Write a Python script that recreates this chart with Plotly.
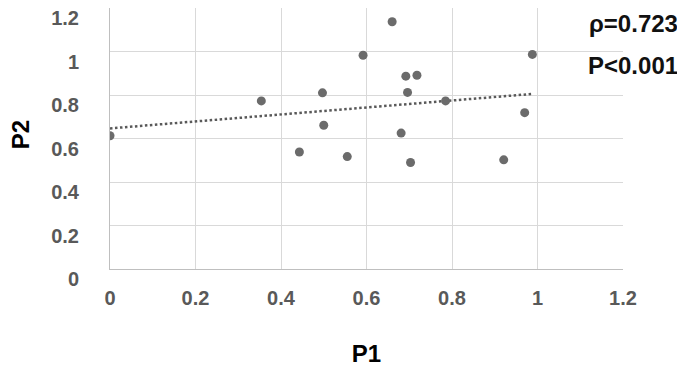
import numpy as np
import plotly.graph_objects as go

p1 = [0.0, 0.354, 0.497, 0.500, 0.443, 0.555, 0.592, 0.660, 0.692, 0.718,
      0.696, 0.681, 0.703, 0.785, 0.988, 0.970, 0.921]
p2 = [0.613, 0.773, 0.810, 0.661, 0.538, 0.517, 0.983, 1.137, 0.887, 0.891,
      0.812, 0.625, 0.490, 0.773, 0.987, 0.719, 0.502]
tick_vals = [0, 0.2, 0.4, 0.6, 0.8, 1.0, 1.2]
tick_text = ["0", "0.2", "0.4", "0.6", "0.8", "1", "1.2"]
stats = ["ρ=0.723", "P<0.001"]

slope, intercept = np.polyfit(p1, p2, 1)
tx = [min(p1), max(p1)]
ty = [intercept + slope * v for v in tx]

FONT = "Liberation Sans, Arial, sans-serif"

fig = go.Figure()
fig.add_trace(go.Scatter(x=tx, y=ty, mode="lines",
                         line=dict(color="#595959", width=2.5, dash="2.5px,2.5px"),
                         hoverinfo="skip", showlegend=False))
fig.add_trace(go.Scatter(x=p1, y=p2, mode="markers",
                         marker=dict(color="#6b6b6b", size=9),
                         showlegend=False))

axis_font = dict(family=FONT, size=20, color="#595959", weight="bold")
fig.update_xaxes(range=[0, 1.2], tickvals=tick_vals, ticktext=tick_text,
                 showgrid=True, gridcolor="#d9d9d9", gridwidth=1,
                 showline=True, linecolor="#bfbfbf", linewidth=1,
                 zeroline=False, ticks="", tickfont=axis_font,
                 ticklabelstandoff=11,
                 title=dict(text="<b>P1</b>", font=dict(family=FONT, size=24, color="black"),
                            standoff=37))
fig.update_yaxes(range=[0, 1.2003], tickvals=tick_vals, ticktext=tick_text,
                 showgrid=True, gridcolor="#d9d9d9", gridwidth=1,
                 showline=True, linecolor="#bfbfbf", linewidth=1,
                 zeroline=False, ticks="", tickfont=axis_font,
                 ticklabelstandoff=26, ticklabelshift=10, ticklabeloverflow="allow")

# y-axis title placed as an annotation so it can sit closer to the page edge
fig.add_annotation(text="<b>P2</b>", xref="paper", yref="paper",
                   x=-0.175, y=0.513, xanchor="center", yanchor="middle",
                   textangle=-90, showarrow=False,
                   font=dict(family=FONT, size=24, color="black"))

for i, s in enumerate(stats):
    fig.add_annotation(text="<b>" + s + "</b>", xref="paper", yref="paper",
                       x=1.111, y=[0.9406, 0.7797][i], xanchor="right", yanchor="middle",
                       showarrow=False,
                       font=dict(family=FONT, size=24, color="#111111"))

fig.update_layout(width=685, height=368, margin=dict(l=102, r=70, t=0, b=107, autoexpand=False),
                  plot_bgcolor="white", paper_bgcolor="white")
fig.write_html("out.html")
